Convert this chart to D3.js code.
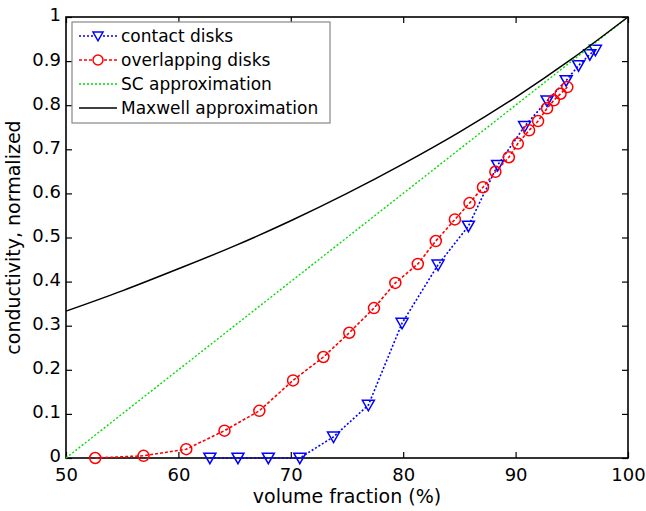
<!DOCTYPE html>
<html>
<head>
<meta charset="utf-8">
<script src="https://cdn.jsdelivr.net/npm/d3@7"></script>
<style>
	body { margin: 0; background: #fff; }
	text { font-family: "DejaVu Sans", sans-serif; }
</style>
</head>
<body>
<div class="chart"></div>
<script>

// contact disks
var contactX = [62.8, 65.3, 68.0, 70.8, 73.8, 76.9, 79.9, 83.1, 85.8, 88.4, 90.8, 92.8, 94.5, 95.6, 96.6, 97.1];
var contactY = [0, 0, 0, 0, 0.048, 0.12, 0.306, 0.438, 0.526, 0.664, 0.752, 0.81, 0.856, 0.89, 0.915, 0.925];

// overlapping disks
var overlapX = [52.6, 56.9, 60.7, 64.1, 67.2, 70.2, 72.9, 75.2, 77.4, 79.3, 81.3, 82.9, 84.6, 85.9, 87.1, 88.2, 89.4, 90.2, 91.2, 92.0, 92.8, 93.4, 94.0, 94.6];
var overlapY = [0, 0.005, 0.02, 0.062, 0.107, 0.176, 0.229, 0.284, 0.340, 0.397, 0.44, 0.492, 0.541, 0.578, 0.614, 0.649, 0.682, 0.713, 0.743, 0.764, 0.793, 0.811, 0.826, 0.841];

// SC approximation
var scX = [50, 100];
var scY = [0, 1];

// Maxwell approximation
var maxwellX = [50, 55, 60, 65, 70, 75, 80, 85, 90, 95, 100];
var maxwellY = [0.333, 0.379, 0.429, 0.481, 0.538, 0.60, 0.667, 0.739, 0.818, 0.905, 1];

var xTicks = [50, 60, 70, 80, 90, 100];
var yTicks = [0, 0.1, 0.2, 0.3, 0.4, 0.5, 0.6, 0.7, 0.8, 0.9, 1];

var legendNames = ['contact disks', 'overlapping disks', 'SC approximation', 'Maxwell approximation'];

var chart = (function() {

	var width = 646, height = 511;
	var margin = { top: 17, right: 18, bottom: 53, left: 66 };
	var w = width - margin.left - margin.right;
	var h = height - margin.top - margin.bottom;

	var x = d3.scaleLinear().domain([50, 100]).range([0, w]);
	var y = d3.scaleLinear().domain([0, 1]).range([h, 0]);

	var zip = function(xs, ys) {
		return xs.map(function(d, i) { return [d, ys[i]]; });
	};

	var line = d3.line()
		.x(function(d) { return x(d[0]); })
		.y(function(d) { return y(d[1]); });

	var init = function() {

		var svg = d3.select('.chart')
			.append('svg')
			.attr('width', width)
			.attr('height', height);

		var g = svg.append('g')
			.attr('transform', 'translate(' + margin.left + ',' + margin.top + ')');

		drawAxes(g);
		drawSeries(g);
		drawLegend(g);
	};

	var drawAxes = function(g) {

		var fmt = function(d) { return d3.format('')(+d.toFixed(1)); };

		var bottom = g.append('g')
			.attr('transform', 'translate(0,' + h + ')')
			.call(d3.axisBottom(x).tickValues(xTicks).tickSize(-6).tickPadding(10));

		var top = g.append('g')
			.call(d3.axisTop(x).tickValues(xTicks).tickSize(-6).tickFormat(''));

		var left = g.append('g')
			.call(d3.axisLeft(y).tickValues(yTicks).tickSize(-6).tickPadding(5).tickFormat(fmt));

		var right = g.append('g')
			.attr('transform', 'translate(' + w + ',0)')
			.call(d3.axisRight(y).tickValues(yTicks).tickSize(-6).tickFormat(''));

		[bottom, top, left, right].forEach(function(a) {
			a.select('.domain').remove();
			a.selectAll('.tick line').attr('stroke', '#000').attr('stroke-width', 1.2);
			a.selectAll('.tick text')
				.attr('fill', '#000')
				.style('font-size', '18px')
				.style('font-family', '"DejaVu Sans", sans-serif');
		});

		left.selectAll('.tick text').attr('dy', '0.22em');

		g.append('rect')
			.attr('width', w)
			.attr('height', h)
			.attr('fill', 'none')
			.attr('stroke', '#000')
			.attr('stroke-width', 1.6);

		g.append('text')
			.attr('x', w / 2)
			.attr('y', h + 45)
			.attr('text-anchor', 'middle')
			.style('font-size', '19px')
			.text('volume fraction (%)');

		g.append('text')
			.attr('transform', 'translate(' + (-46) + ',' + (h / 2) + ') rotate(-90)')
			.attr('text-anchor', 'middle')
			.style('font-size', '19px')
			.text('conductivity, normalized');
	};

	var triangle = function(cx, cy, s) {
		return 'M' + (cx - s) + ',' + (cy - s * 0.8) + 'L' + (cx + s) + ',' + (cy - s * 0.8) +
			'L' + cx + ',' + (cy + s * 0.95) + 'Z';
	};

	var drawSeries = function(g) {

		var contact = zip(contactX, contactY);
		var overlap = zip(overlapX, overlapY);

		g.append('path')
			.attr('d', line(contact))
			.attr('fill', 'none')
			.attr('stroke', '#0000ff')
			.attr('stroke-width', 1.6)
			.attr('stroke-dasharray', '2,2');

		g.selectAll('.tri')
			.data(contact)
			.enter()
				.append('path')
				.attr('class', 'tri')
				.attr('d', function(d) { return triangle(x(d[0]), y(d[1]), 6); })
				.attr('fill', 'none')
				.attr('stroke', '#0000ff')
				.attr('stroke-width', 1.5);

		g.append('path')
			.attr('d', line(overlap))
			.attr('fill', 'none')
			.attr('stroke', '#ff0000')
			.attr('stroke-width', 1.6)
			.attr('stroke-dasharray', '3,2');

		g.selectAll('.circ')
			.data(overlap)
			.enter()
				.append('circle')
				.attr('class', 'circ')
				.attr('cx', function(d) { return x(d[0]); })
				.attr('cy', function(d) { return y(d[1]); })
				.attr('r', 5.5)
				.attr('fill', 'none')
				.attr('stroke', '#ff0000')
				.attr('stroke-width', 1.5);

		g.append('path')
			.attr('d', line(zip(scX, scY)))
			.attr('fill', 'none')
			.attr('stroke', '#00dd00')
			.attr('stroke-width', 1.4)
			.attr('stroke-dasharray', '2,2');

		g.append('path')
			.attr('d', line.curve(d3.curveMonotoneX)(zip(maxwellX, maxwellY)))
			.attr('fill', 'none')
			.attr('stroke', '#000')
			.attr('stroke-width', 1.5);
	};

	var drawLegend = function(g) {

		var lg = g.append('g')
			.attr('transform', 'translate(6,5)');

		lg.append('rect')
			.attr('width', 258)
			.attr('height', 101)
			.attr('fill', '#fff')
			.attr('stroke', '#888')
			.attr('stroke-width', 1.2);

		var colors = ['#0000ff', '#ff0000', '#00dd00', '#000'];
		var dashes = ['2,2', '3,2', '2,2', null];

		legendNames.forEach(function(name, i) {

			var cy = 14 + i * 24;

			lg.append('line')
				.attr('x1', 7).attr('x2', 45)
				.attr('y1', cy).attr('y2', cy)
				.attr('stroke', colors[i])
				.attr('stroke-width', 1.5)
				.attr('stroke-dasharray', dashes[i]);

			if (i === 0) {
				lg.append('path')
					.attr('d', triangle(26, cy, 5))
					.attr('fill', '#fff')
					.attr('stroke', colors[i])
					.attr('stroke-width', 1.5);
			}
			if (i === 1) {
				lg.append('circle')
					.attr('cx', 26).attr('cy', cy).attr('r', 5)
					.attr('fill', '#fff')
					.attr('stroke', colors[i])
					.attr('stroke-width', 1.5);
			}

			lg.append('text')
				.attr('x', 49)
				.attr('y', cy + 6)
				.style('font-size', '17px')
				.text(name);
		});
	};

	return {
		'init': init
	};

})();

chart.init();
</script>
</body>
</html>
